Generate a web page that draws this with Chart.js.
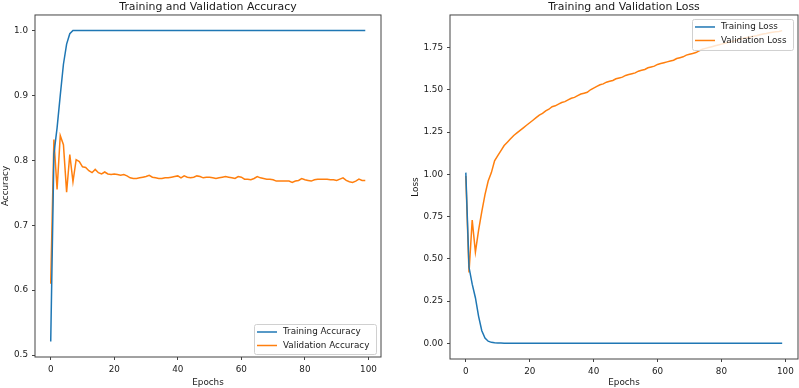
<!DOCTYPE html>
<html>
<head>
<meta charset="utf-8">
<script src="https://cdn.jsdelivr.net/npm/chart.js@4.4.0/dist/chart.umd.min.js"></script>
<style>
  html, body { margin: 0; padding: 0; background: #fff; }
  #wrap { position: relative; width: 799px; height: 388px; }
  canvas { position: absolute; top: 0; }
</style>
</head>
<body>
<div id="wrap">
  <canvas id="accChart" width="400" height="388" style="left:0"></canvas>
  <canvas id="lossChart" width="399" height="388" style="left:400px"></canvas>
</div>
<script>
// epochs 0..99
var epochs = Array.from({length: 100}, (_, i) => i);
var epochTicks = [0, 20, 40, 60, 80, 100];
var accTicks = [0.5, 0.6, 0.7, 0.8, 0.9, 1.0];
var lossTicks = [0.00, 0.25, 0.50, 0.75, 1.00, 1.25, 1.50, 1.75];

var trainAcc = [
  0.521, 0.810, 0.850, 0.900, 0.948, 0.979, 0.995, 1, 1, 1,
  1, 1, 1, 1, 1, 1, 1, 1, 1, 1,
  1, 1, 1, 1, 1, 1, 1, 1, 1, 1,
  1, 1, 1, 1, 1, 1, 1, 1, 1, 1,
  1, 1, 1, 1, 1, 1, 1, 1, 1, 1,
  1, 1, 1, 1, 1, 1, 1, 1, 1, 1,
  1, 1, 1, 1, 1, 1, 1, 1, 1, 1,
  1, 1, 1, 1, 1, 1, 1, 1, 1, 1,
  1, 1, 1, 1, 1, 1, 1, 1, 1, 1,
  1, 1, 1, 1, 1, 1, 1, 1, 1, 1
];
var valAcc = [
  0.610, 0.832, 0.755, 0.838, 0.824, 0.751, 0.809, 0.767, 0.801, 0.798,
  0.790, 0.789, 0.784, 0.781, 0.786, 0.781, 0.779, 0.782, 0.779, 0.778,
  0.779, 0.778, 0.777, 0.778, 0.776, 0.773, 0.772, 0.772, 0.773, 0.774,
  0.775, 0.777, 0.774, 0.773, 0.772, 0.772, 0.773, 0.773, 0.774, 0.775,
  0.776, 0.773, 0.776, 0.774, 0.773, 0.774, 0.776, 0.775, 0.773, 0.774,
  0.774, 0.773, 0.772, 0.773, 0.774, 0.775, 0.774, 0.773, 0.772, 0.775,
  0.774, 0.771, 0.771, 0.770, 0.772, 0.775, 0.773, 0.772, 0.771, 0.771,
  0.770, 0.768, 0.768, 0.768, 0.768, 0.768, 0.766, 0.768, 0.769, 0.772,
  0.770, 0.769, 0.768, 0.770, 0.771, 0.771, 0.771, 0.771, 0.770, 0.770,
  0.769, 0.771, 0.773, 0.769, 0.767, 0.766, 0.768, 0.771, 0.769, 0.769
];
var trainLoss = [
  1.010, 0.450, 0.350, 0.270, 0.160, 0.075, 0.032, 0.013, 0.006, 0.003,
  0.0020, 0.0015, 0.0012, 0.0010, 0.0009, 0.0008, 0.0007, 0.0007, 0.0006, 0.0006,
  0.0005, 0.0005, 0.0005, 0.0004, 0.0004, 0.0004, 0.0004, 0.0003, 0.0003, 0.0003,
  0.0003, 0.0003, 0.0003, 0.0002, 0.0002, 0.0002, 0.0002, 0.0002, 0.0002, 0.0002,
  0.0002, 0.0002, 0.0002, 0.0002, 0.0001, 0.0001, 0.0001, 0.0001, 0.0001, 0.0001,
  0.0001, 0.0001, 0.0001, 0.0001, 0.0001, 0.0001, 0.0001, 0.0001, 0.0001, 0.0001,
  0.0001, 0.0001, 0.0001, 0.0001, 0.0001, 0.0001, 0.0001, 0.0001, 0.0001, 0.0001,
  0.0001, 0.0001, 0.0001, 0.0001, 0.0001, 0.0001, 0.0001, 0.0001, 0.0001, 0.0001,
  0.0001, 0.0001, 0.0001, 0.0001, 0.0001, 0.0001, 0.0001, 0.0001, 0.0001, 0.0001,
  0.0001, 0.0001, 0.0001, 0.0001, 0.0001, 0.0001, 0.0001, 0.0001, 0.0001, 0.0001
];
var valLoss = [
  0.990, 0.420, 0.730, 0.540, 0.670, 0.780, 0.880, 0.960, 1.010, 1.080,
  1.110, 1.140, 1.170, 1.190, 1.210, 1.230, 1.245, 1.260, 1.275, 1.290,
  1.305, 1.320, 1.335, 1.350, 1.360, 1.375, 1.385, 1.400, 1.405, 1.415,
  1.425, 1.430, 1.440, 1.450, 1.455, 1.465, 1.475, 1.480, 1.485, 1.500,
  1.510, 1.520, 1.530, 1.535, 1.545, 1.550, 1.555, 1.565, 1.570, 1.575,
  1.585, 1.590, 1.595, 1.600, 1.610, 1.615, 1.620, 1.630, 1.635, 1.640,
  1.650, 1.655, 1.660, 1.665, 1.670, 1.675, 1.685, 1.690, 1.695, 1.705,
  1.710, 1.715, 1.720, 1.730, 1.740, 1.745, 1.750, 1.755, 1.760, 1.765,
  1.770, 1.775, 1.780, 1.785, 1.790, 1.795, 1.800, 1.805, 1.810, 1.812,
  1.817, 1.820, 1.825, 1.830, 1.833, 1.837, 1.840, 1.843, 1.845, 1.850
];

var blue = "#1f77b4";
var orange = "#ff7f0e";
var font = "DejaVu Sans";
var axisColor = "#444";
var textColor = "#1a1a1a";

function pts(values) {
    return epochs.map((e, i) => ({x: e, y: values[i]}));
}

// frame all four sides like matplotlib spines
var framePlugin = {
    id: "frame",
    afterDraw(chart) {
        var a = chart.chartArea, ctx = chart.ctx;
        ctx.save();
        ctx.strokeStyle = axisColor;
        ctx.lineWidth = 1;
        ctx.strokeRect(a.left, a.top, a.right - a.left, a.bottom - a.top);
        ctx.restore();
    }
};

// legend box drawn inside the plot area
function boxLegend(corner, w, h, items) {
    return {
        id: "boxLegend",
        afterDatasetsDraw(chart) {
            var a = chart.chartArea, ctx = chart.ctx;
            var x = a.right - 5 - w;
            var y = corner == "bottom" ? a.bottom - 3 - h : a.top + 4;
            ctx.save();
            ctx.beginPath();
            ctx.roundRect(x + 0.5, y + 0.5, w, h, 2);
            ctx.fillStyle = "rgba(255,255,255,0.8)";
            ctx.fill();
            ctx.strokeStyle = "#d0d0d0";
            ctx.lineWidth = 1;
            ctx.stroke();
            ctx.font = "8.8px '" + font + "'";
            ctx.textBaseline = "middle";
            items.forEach((it, i) => {
                var ry = y + 8 + i * 13.5;
                ctx.strokeStyle = it.color;
                ctx.lineWidth = 1.5;
                ctx.beginPath();
                ctx.moveTo(x + 3, ry);
                ctx.lineTo(x + 23, ry);
                ctx.stroke();
                ctx.fillStyle = textColor;
                ctx.fillText(it.label, x + 29, ry);
            });
            ctx.restore();
        }
    };
}

function makeChart(id, opts) {
    var ctx = document.getElementById(id).getContext("2d");
    return new Chart(ctx, {
        type: "line",
        data: {
            datasets: opts.series.map(s => ({
                label: s.label,
                data: pts(s.values),
                borderColor: s.color,
                backgroundColor: s.color,
                borderWidth: 1.5,
                pointRadius: 0,
                tension: 0,
                fill: false
            }))
        },
        options: {
            responsive: false,
            animation: false,
            layout: {padding: {left: 0, right: opts.padRight, top: 0, bottom: 0}},
            plugins: {
                legend: {display: false},
                tooltip: {enabled: false},
                title: {
                    display: true,
                    text: opts.title,
                    fullSize: false,
                    color: textColor,
                    font: {family: font, size: 10.9, weight: "normal"},
                    padding: {top: 0.5, bottom: 1.4}
                }
            },
            scales: {
                x: {
                    type: "linear",
                    min: -4.95,
                    max: 103.95,
                    afterBuildTicks: s => { s.ticks = epochTicks.map(v => ({value: v})); },
                    afterFit: s => { s.height = opts.xHeight; },
                    grid: {drawOnChartArea: false, tickLength: 3, color: axisColor},
                    border: {display: false},
                    ticks: {color: textColor, padding: 4, maxRotation: 0, font: {family: font, size: 8.8}},
                    title: {display: true, text: "Epochs", color: textColor, padding: {top: 0, bottom: 0}, font: {family: font, size: 8.8}}
                },
                y: {
                    min: opts.yMin,
                    max: opts.yMax,
                    afterBuildTicks: s => { s.ticks = opts.yTicks.map(v => ({value: v})); },
                    afterFit: s => { s.width = opts.yWidth; },
                    grid: {drawOnChartArea: false, tickLength: 3, color: axisColor},
                    border: {display: false},
                    ticks: {color: textColor, padding: 4, font: {family: font, size: 8.8}, callback: v => v.toFixed(opts.decimals)},
                    title: {display: true, text: opts.yLabel, color: textColor, padding: {top: opts.yTitlePad, bottom: 0}, font: {family: font, size: 8.8}}
                }
            }
        },
        plugins: [framePlugin, boxLegend(opts.legendCorner, opts.legendW, opts.legendH,
            opts.series.map(s => ({label: s.label, color: s.color})))]
    });
}

makeChart("accChart", {
    title: "Training and Validation Accuracy",
    yLabel: "Accuracy",
    series: [
        {label: "Training Accuracy", values: trainAcc, color: blue},
        {label: "Validation Accuracy", values: valAcc, color: orange}
    ],
    yMin: 0.497, yMax: 1.0239, yTicks: accTicks, decimals: 1,
    padRight: 19, xHeight: 31, yWidth: 35, yTitlePad: 0,
    legendCorner: "bottom", legendW: 122, legendH: 30
});

makeChart("lossChart", {
    title: "Training and Validation Loss",
    yLabel: "Loss",
    series: [
        {label: "Training Loss", values: trainLoss, color: blue},
        {label: "Validation Loss", values: valLoss, color: orange}
    ],
    yMin: -0.0925, yMax: 1.9425, yTicks: lossTicks, decimals: 2,
    padRight: 1, xHeight: 29, yWidth: 50, yTitlePad: 10,
    legendCorner: "top", legendW: 101, legendH: 31
});
</script>
</body>
</html>
